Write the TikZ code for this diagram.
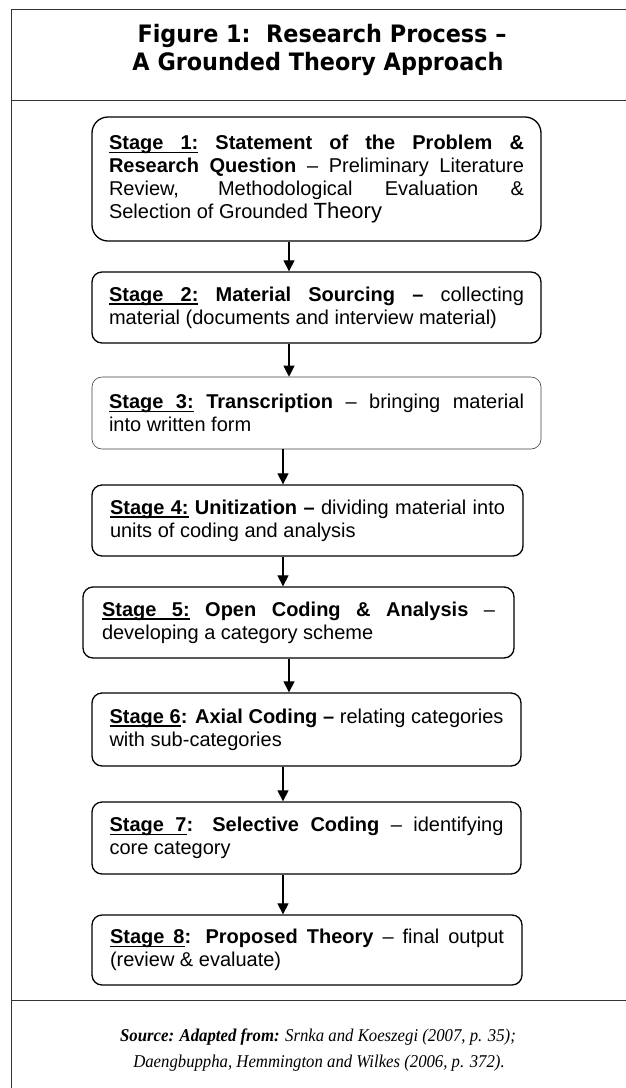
\documentclass[tikz,border=0pt]{standalone}
\usepackage{fontspec}
\setmainfont{Liberation Sans}
\newfontfamily\titlefont[FakeStretch=0.93]{DejaVu Sans}
\newfontfamily\srcfont[FakeStretch=0.93]{Liberation Serif}
\usetikzlibrary{arrows.meta}
\AtBeginDocument{\hyphenpenalty=10000 \exhyphenpenalty=10000 \tolerance=10000 \pretolerance=-1 }
\newcommand{\ulw}[1]{\leavevmode\setbox0=\hbox{#1}\rlap{\vrule height -2.3pt depth 3.7pt width \wd0}\box0 }
\newcommand{\ulsp}{\leavevmode\leaders\vrule height -2.3pt depth 3.7pt\hskip\fontdimen2\font plus\fontdimen3\font minus\fontdimen4\font\relax}
\newcommand{\stg}[2]{\leavevmode\textbf{\ulw{Stage}\ulsp\ulw{#1}}#2}
\tikzset{
  stagebox/.style={draw, line width=1.3pt, rounded corners=10pt, inner xsep=0pt, inner ysep=0pt,
    align=justify, anchor=center, font=\fontsize{20}{23}\selectfont},
  arr/.style={line width=1.1pt, -{Triangle[width=11pt,length=11pt]}},
  frame/.style={line width=0.9pt, draw=black!80},
  ttl/.style={font=\titlefont\bfseries\fontsize{24}{28}\selectfont, anchor=base, inner sep=0pt},
  srcl/.style={font=\srcfont\itshape\fontsize{18}{26}\selectfont, anchor=base, inner sep=0pt},
}
\begin{document}
\begin{tikzpicture}[x=1pt,y=1pt]
\useasboundingbox (0,0) rectangle (626,-1088);
% frame
\draw[frame] (11,-1088) -- (11,-9) -- (626,-9);
\draw[frame] (11,-100) -- (626,-100);
\draw[frame] (11,-1000) -- (626,-1000);
% title
\node[ttl] (title1) at (322,-42) {Figure 1:\ \ Research Process –};
\node[ttl] (title2) at (318,-70) {A Grounded Theory Approach};
% boxes
\node[stagebox, rounded corners=16pt, minimum width=449pt, minimum height=124pt, text width=415pt] (b1) at (316.5,-179)
  {\stg{1:}{} \textbf{Statement of the Problem \&}\linebreak
   \textbf{Research Question} – Preliminary Literature\linebreak
   Review, Methodological Evaluation \&\linebreak
   Selection of Grounded {\fontsize{22}{23}\selectfont Theory}};
\node[stagebox, minimum width=449pt, minimum height=71pt, text width=415pt] (b2) at (316.5,-307.5)
  {\stg{2:}{} \textbf{Material Sourcing –} collecting\linebreak
   material (documents and interview material)};
\node[stagebox, line width=0.6pt, draw=black!75, minimum width=449pt, minimum height=72pt, text width=415pt] (b3) at (316.5,-413)
  {\stg{3:}{} \textbf{Transcription} – bringing material\linebreak
   into written form};
\node[stagebox, minimum width=431pt, minimum height=71pt, text width=395pt] (b4) at (307.5,-520.5)
  {\stg{4:}{} \textbf{Unitization –} dividing material into\linebreak
   units of coding and analysis};
\node[stagebox, minimum width=431pt, minimum height=71pt, text width=393pt] (b5) at (298.5,-622.5)
  {\stg{5:}{} \textbf{Open Coding \& Analysis} –\linebreak
   developing a category scheme};
\node[stagebox, minimum width=429pt, minimum height=73pt, text width=394pt] (b6) at (306.5,-729.5)
  {\stg{6}{\textbf{:}} \textbf{Axial Coding –} relating categories\linebreak
   with sub-categories};
\node[stagebox, minimum width=429pt, minimum height=72pt, text width=394pt] (b7) at (306.5,-838)
  {\stg{7}{\textbf{:}} \textbf{Selective Coding} – identifying\linebreak
   core category};
\node[stagebox, minimum width=430pt, minimum height=70pt, text width=394pt] (b8) at (307,-950)
  {\stg{8}{\textbf{:}} \textbf{Proposed Theory} – final output\linebreak
   (review \& evaluate)};
% arrows
\coordinate (xa) at (289,0);
\coordinate (xb) at (283,0);
\draw[arr] (b1.south -| xa) -- (b2.north -| xa);
\draw[arr] (b2.south -| xa) -- (b3.north -| xa);
\draw[arr] (b3.south -| xb) -- (b4.north -| xb);
\draw[arr] (b4.south -| xb) -- (b5.north -| xb);
\draw[arr] (b5.south -| xa) -- (b6.north -| xa);
\draw[arr] (b6.south -| xb) -- (b7.north -| xb);
\draw[arr] (b7.south -| xb) -- (b8.north -| xb);
% source
\node[srcl] (src1) at (318,-1041) {\textbf{Source: Adapted from:} Srnka and Koeszegi (2007, p. 35);};
\node[srcl] (src2) at (319,-1067) {Daengbuppha, Hemmington and Wilkes (2006, p. 372).};
\end{tikzpicture}
\end{document}
